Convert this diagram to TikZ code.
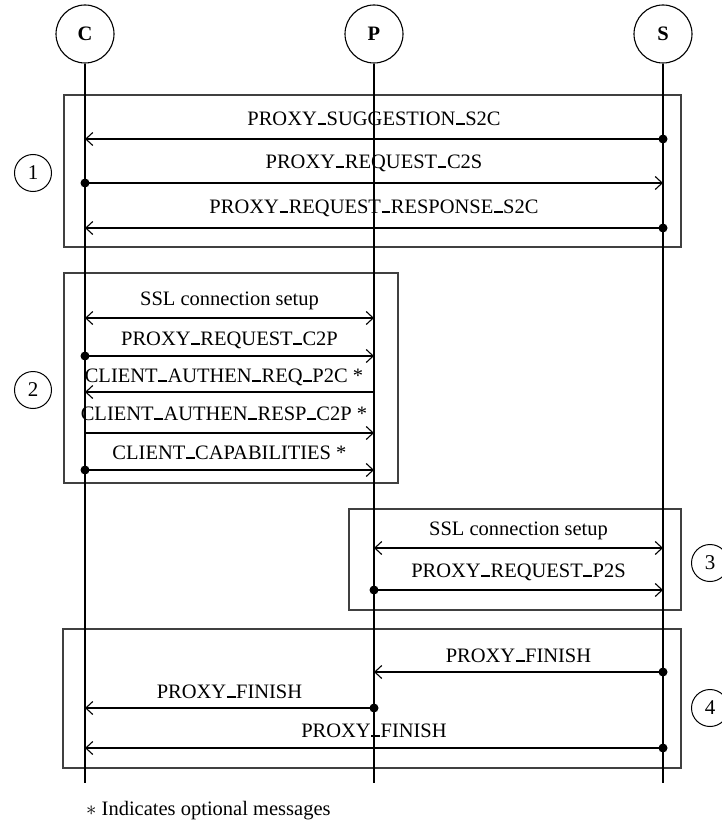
\documentclass[tikz,border=0pt]{standalone}
\usepackage{fontspec}
\setmainfont{Liberation Serif}
\usetikzlibrary{arrows.meta}
% short underscore sitting on the baseline
\newcommand\usc{\kern0.03em\rule{0.42em}{0.075em}\kern0.03em}
\begin{document}
\begin{tikzpicture}[x=1pt,y=-1pt,
  txt/.style={font=\fontsize{20.5}{24}\selectfont},
  actor/.style={draw, circle, minimum size=58pt, inner sep=0pt, line width=1.1pt,
    font=\fontsize{20.5}{24}\selectfont\bfseries},
  phase/.style={draw, circle, minimum size=37pt, inner sep=0pt, line width=1pt,
    font=\fontsize{21}{24}\selectfont},
  lifeline/.style={line width=1.3pt},
  frame/.style={draw=black!75, line width=1.2pt},
  msg/.style={line width=1.1pt, -{Straight Barb[length=7pt,width=13pt,line width=1.1pt]}},
  twoway/.style={line width=1.1pt,
    {Straight Barb[length=7pt,width=13pt,line width=1.1pt]}-{Straight Barb[length=7pt,width=13pt,line width=1.1pt]}},
  dot/.style={fill, circle, minimum size=9pt, inner sep=0pt},
  lbl/.style={txt, anchor=base, inner sep=0pt}
]
\useasboundingbox (0,0) rectangle (722,824);

% participants
\node[actor] (C) at (85,34) {C};
\node[actor] (P) at (374,34) {P};
\node[actor] (S) at (663,34) {S};

% phase frames
\draw[frame] (64,95) rectangle (681,247);
\draw[frame] (64,273) rectangle (398,483);
\draw[frame] (349,509) rectangle (681,610);
\draw[frame] (63,629) rectangle (681,768);

% phase numbers
\node[phase] (n1) at (33,173) {1};
\node[phase] (n2) at (33,390) {2};
\node[phase] (n3) at (710,563) {3};
\node[phase] (n4) at (710,708) {4};

% lifelines
\coordinate (Cend) at (85,783);
\coordinate (Pend) at (374,783);
\coordinate (Send) at (663,783);
\draw[lifeline] (C) -- (Cend);
\draw[lifeline] (P) -- (Pend);
\draw[lifeline] (S) -- (Send);

% message rows
\coordinate (r1) at (0,139);
\coordinate (r2) at (0,183);
\coordinate (r3) at (0,228);
\coordinate (r4) at (0,318);
\coordinate (r5) at (0,356);
\coordinate (r6) at (0,392);
\coordinate (r7) at (0,433);
\coordinate (r8) at (0,470);
\coordinate (r9) at (0,548);
\coordinate (r10) at (0,590);
\coordinate (r11) at (0,672);
\coordinate (r12) at (0,708);
\coordinate (r13) at (0,748);

% phase 1
\node[dot] (d1) at (S |- r1) {};
\draw[msg] (d1.center) -- (C |- r1);
\node[lbl] (l1) at (374,125) {PROXY\usc SUGGESTION\usc S2C};
\node[dot] (d2) at (C |- r2) {};
\draw[msg] (d2.center) -- (S |- r2);
\node[lbl] (l2) at (374,168) {PROXY\usc REQUEST\usc C2S};
\node[dot] (d3) at (S |- r3) {};
\draw[msg] (d3.center) -- (C |- r3);
\node[lbl] (l3) at (374,213) {PROXY\usc REQUEST\usc RESPONSE\usc S2C};

% phase 2
\draw[twoway] (C |- r4) -- (P |- r4);
\node[lbl] (l4) at (229.5,305) {SSL connection setup};
\node[dot] (d5) at (C |- r5) {};
\draw[msg] (d5.center) -- (P |- r5);
\node[lbl] (l5) at (229.5,345) {PROXY\usc REQUEST\usc C2P};
\draw[msg] (P |- r6) -- (C |- r6);
\node[lbl] (l6) at (224,382) {CLIENT\usc AUTHEN\usc REQ\usc P2C *};
\draw[msg] (C |- r7) -- (P |- r7);
\node[lbl] (l7) at (224,420) {CLIENT\usc AUTHEN\usc RESP\usc C2P *};
\node[dot] (d8) at (C |- r8) {};
\draw[msg] (d8.center) -- (P |- r8);
\node[lbl] (l8) at (229.5,459) {CLIENT\usc CAPABILITIES *};

% phase 3
\draw[twoway] (P |- r9) -- (S |- r9);
\node[lbl] (l9) at (518.5,535) {SSL connection setup};
\node[dot] (d10) at (P |- r10) {};
\draw[msg] (d10.center) -- (S |- r10);
\node[lbl] (l10) at (518.5,577) {PROXY\usc REQUEST\usc P2S};

% phase 4
\node[dot] (d11) at (S |- r11) {};
\draw[msg] (d11.center) -- (P |- r11);
\node[lbl] (l11) at (518.5,662) {PROXY\usc FINISH};
\node[dot] (d12) at (P |- r12) {};
\draw[msg] (d12.center) -- (C |- r12);
\node[lbl] (l12) at (229.5,698) {PROXY\usc FINISH};
\node[dot] (d13) at (S |- r13) {};
\draw[msg] (d13.center) -- (C |- r13);
\node[lbl] (l13) at (374,737) {PROXY\usc FINISH};

% footnote
\node[txt, anchor=base west, inner sep=0pt] (note) at (86,815) {$\ast$ Indicates optional messages};
\end{tikzpicture}
\end{document}
